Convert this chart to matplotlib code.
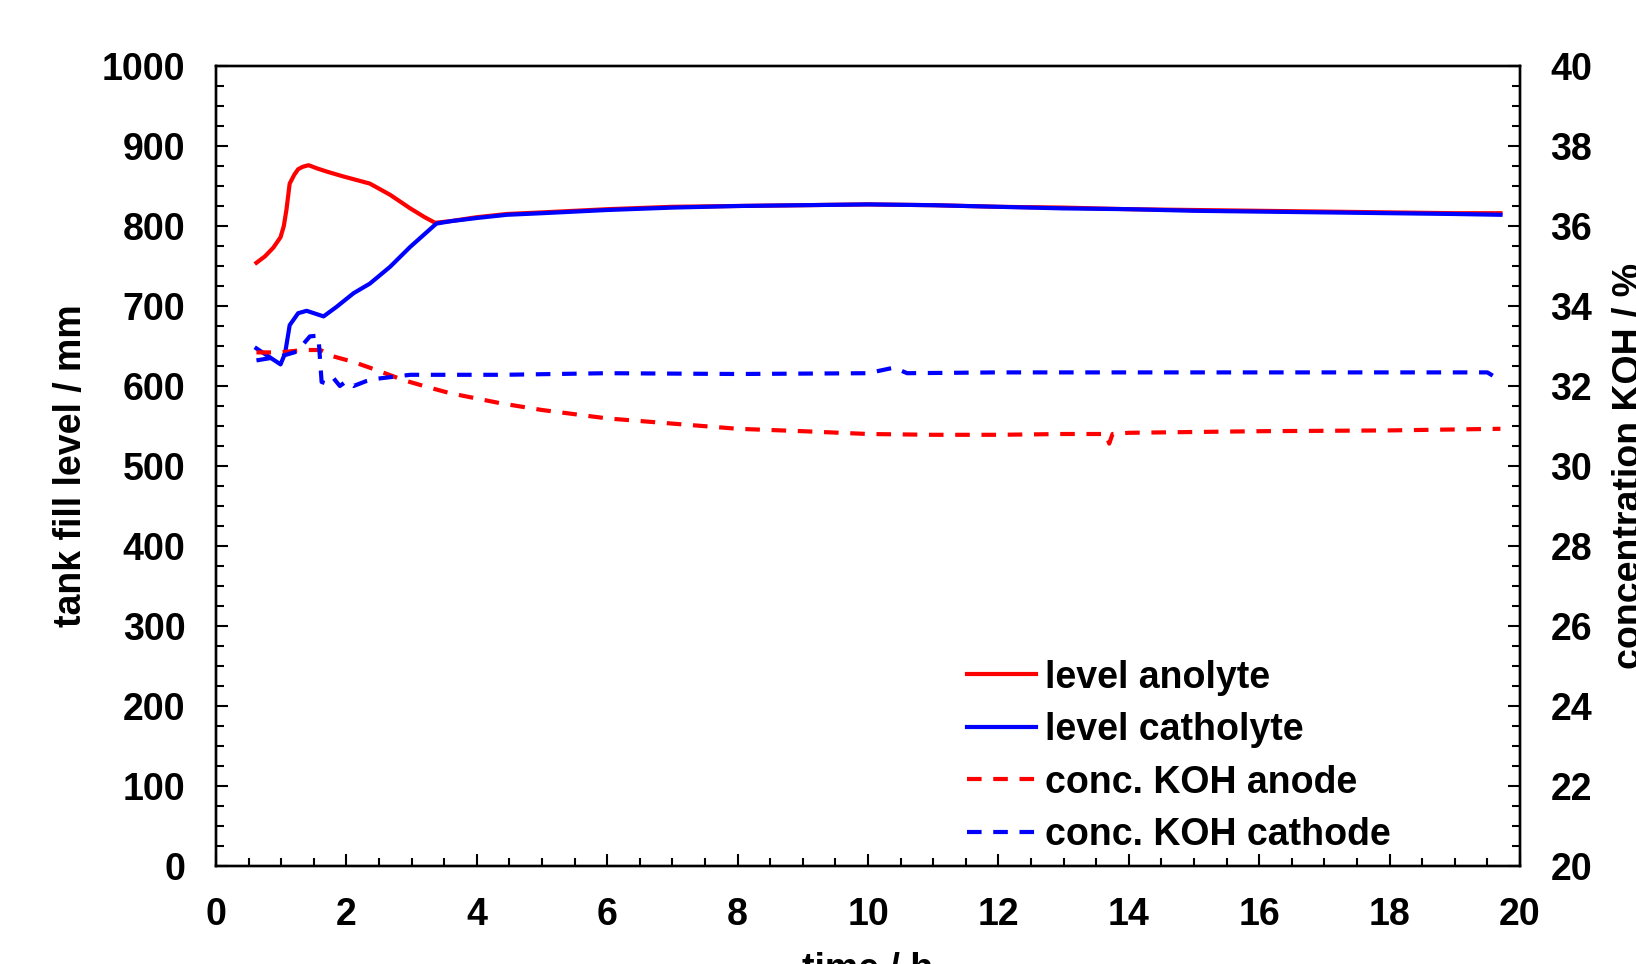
import matplotlib
matplotlib.use("Agg")
import matplotlib.pyplot as plt
from matplotlib.ticker import MultipleLocator

plt.rcParams["font.family"] = ["Liberation Sans", "DejaVu Sans"]
plt.rcParams["font.weight"] = "bold"
plt.rcParams["font.size"] = 27

# level anolyte (mm)
t_lev_an = [0.62, 0.75, 0.88, 0.99, 1.04, 1.08, 1.13, 1.20, 1.26, 1.33, 1.42, 1.55,
            1.70, 1.95, 2.36, 2.67, 2.98, 3.20, 3.36, 3.59, 4.0, 4.46, 5, 6, 7, 8,
            9, 10, 11, 12, 13, 14, 15, 16, 17, 18, 19, 19.7]
lev_an = [754, 762, 773, 786, 800, 820, 853, 864, 871, 874, 876, 872,
          868, 862, 853, 839, 822, 811, 804, 806, 811, 815, 817, 821, 824, 825,
          826, 827, 826, 824, 823, 821, 820, 819, 818, 817, 816, 816]

# level catholyte (mm)
t_lev_cat = [0.62, 0.99, 1.06, 1.13, 1.26, 1.39, 1.65, 1.85, 2.11, 2.36, 2.67, 2.98,
             3.38, 3.6, 4.0, 4.46, 5, 6, 7, 8, 9, 10, 11, 12, 13, 14, 15, 16, 17,
             18, 19, 19.7]
lev_cat = [647, 627, 641, 676, 691, 694, 687, 699, 716, 728, 749, 774,
           803, 806, 810, 814, 816, 820, 823, 825, 826, 827, 826, 824, 822, 821,
           819, 818, 817, 816, 815, 814]

# conc. KOH anode (%)
t_conc_an = [0.62, 0.98, 1.34, 1.6, 1.8, 2.11, 2.46, 2.87, 3.23, 3.59, 4.36, 5, 6, 7,
             8, 9, 10, 11, 12, 13, 13.65, 13.7, 13.75, 14, 16, 18, 19.7]
conc_an = [32.84, 32.84, 32.9, 32.9, 32.74, 32.6, 32.4, 32.15, 31.98, 31.82, 31.57,
           31.4, 31.19, 31.06, 30.93, 30.87, 30.8, 30.78, 30.78, 30.8, 30.8, 30.56,
           30.8, 30.83, 30.87, 30.89, 30.93]

# conc. KOH cathode (%)
t_conc_cat = [0.62, 0.99, 1.24, 1.44, 1.57, 1.62, 1.7, 1.8, 1.9, 2.0, 2.11, 2.3, 2.46,
              2.98, 4.4, 6, 8, 10, 10.4, 10.6, 12, 14, 16, 18, 19.5, 19.7]
conc_cat = [32.64, 32.74, 32.86, 33.24, 33.26, 32.1, 32.06, 32.2, 32.0, 32.12, 32.0,
            32.12, 32.18, 32.28, 32.28, 32.32, 32.3, 32.32, 32.46, 32.32, 32.34, 32.34,
            32.34, 32.34, 32.34, 32.14]

RED = "#ff0000"
BLUE = "#0000ff"

fig = plt.figure(figsize=(16.36, 9.64), dpi=100)
ax = fig.add_axes([216 / 1636, 98 / 964, 1304 / 1636, 800 / 964])
ax2 = ax.twinx()

l1, = ax.plot(t_lev_an, lev_an, color=RED, lw=3, label="level anolyte")
l2, = ax.plot(t_lev_cat, lev_cat, color=BLUE, lw=3, label="level catholyte")
l3, = ax2.plot(t_conc_an, conc_an, color=RED, lw=3, dashes=(3.5, 2.8),
               label="conc. KOH anode")
l4, = ax2.plot(t_conc_cat, conc_cat, color=BLUE, lw=3, dashes=(3.5, 2.8),
               label="conc. KOH cathode")

ax.set_xlim(0, 20)
ax.set_ylim(0, 1000)
ax2.set_ylim(20, 40)

ax.xaxis.set_major_locator(MultipleLocator(2))
ax.xaxis.set_minor_locator(MultipleLocator(0.5))
ax.yaxis.set_major_locator(MultipleLocator(100))
ax.yaxis.set_minor_locator(MultipleLocator(25))
ax2.yaxis.set_major_locator(MultipleLocator(2))
ax2.yaxis.set_minor_locator(MultipleLocator(0.5))

for a in (ax, ax2):
    a.tick_params(which="major", direction="in", length=8.5, width=1.5, pad=22)
    a.tick_params(which="minor", direction="in", length=5.5, width=1.5)
    for s in a.spines.values():
        s.set_linewidth(1.7)
ax.tick_params(which="both", top=False, right=False)
ax2.tick_params(which="both", left=False)

ax.set_xlabel("time / h", fontweight="bold", labelpad=14)
ax.set_ylabel("tank fill level / mm", fontweight="bold", labelpad=9)
ax2.set_ylabel("concentration KOH / %", fontweight="bold", labelpad=14)

ax.legend(handles=[l1, l2, l3, l4], loc="upper left", bbox_to_anchor=(0.576, 0.258),
          frameon=False, borderpad=0, borderaxespad=0, handlelength=1.85,
          handletextpad=0.22, labelspacing=0.44, fontsize=27)

fig.savefig("out.png", dpi=100)
